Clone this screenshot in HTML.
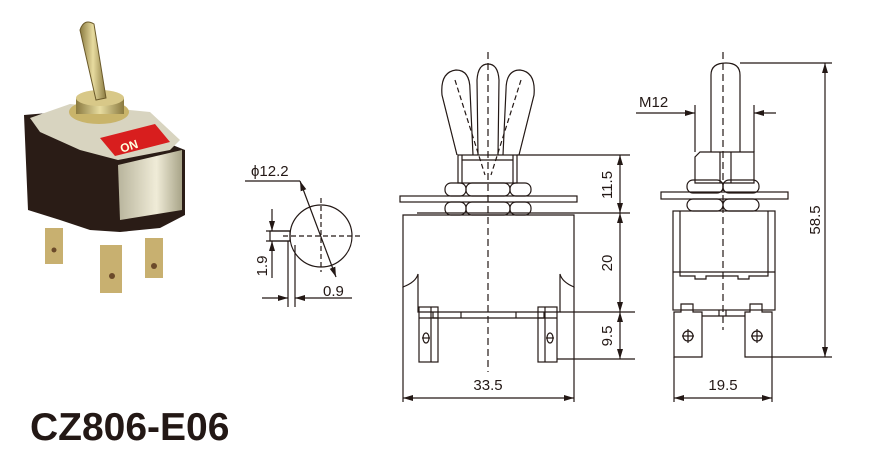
<!DOCTYPE html>
<html><head><style>body{margin:0;background:#fff}svg{display:block}</style></head>
<body>
<svg width="883" height="454" viewBox="0 0 883 454" xmlns="http://www.w3.org/2000/svg" font-family="Liberation Sans, Arial, sans-serif">
<defs>
<marker id="a" viewBox="0 0 10 6" refX="10" refY="3" markerWidth="10" markerHeight="6" orient="auto-start-reverse" markerUnits="userSpaceOnUse"><path d="M0,0 L10,3 L0,6 z" fill="#231815"/></marker>
<linearGradient id="g1" x1="0" x2="1"><stop offset="0" stop-color="#8a7a40"/><stop offset=".5" stop-color="#e8dca0"/><stop offset="1" stop-color="#8a7a40"/></linearGradient>
<linearGradient id="g2" x1="0" x2="1"><stop offset="0" stop-color="#b8b49c"/><stop offset=".6" stop-color="#f0ecd8"/><stop offset="1" stop-color="#a8a488"/></linearGradient>
</defs>
<!-- photo -->
<g>
<polygon points="24,115 60,112 120,126 160,140 185,150 185,215 160,228 120,232 90,230 60,220 28,210" fill="#2a1c16"/>
<polygon points="118,165 182,150 182,210 120,220" fill="url(#g2)"/>
<polygon points="30,118 70,104 150,112 180,140 170,150 118,160 80,150 40,132" fill="#d8d4c0"/>
<polygon points="100,138 155,124 170,142 115,156" fill="#d81e1e"/>
<text x="120" y="150" font-size="12" fill="#ffd" font-weight="bold" transform="rotate(-18 130 146)">ON</text>
<ellipse cx="99" cy="112" rx="30" ry="12" fill="#c9b46a"/>
<rect x="76" y="98" width="48" height="16" fill="url(#g1)"/>
<ellipse cx="100" cy="98" rx="24" ry="8" fill="#d8c888"/>
<path d="M80,30 Q84,18 94,24 L106,98 L96,100 Z" fill="url(#g1)" stroke="#6b5a2a" stroke-width="1"/>
<rect x="45" y="228" width="18" height="36" fill="#c8b070"/>
<rect x="100" y="245" width="22" height="48" fill="#c8b070"/>
<rect x="145" y="238" width="18" height="40" fill="#c8b070"/>
<circle cx="112" cy="276" r="3" fill="#6b4a2a"/><circle cx="154" cy="266" r="3" fill="#6b4a2a"/><circle cx="54" cy="250" r="2.5" fill="#6b4a2a"/>
</g>
<text x="30" y="440" font-size="39" font-weight="bold" fill="#231815">CZ806-E06</text>

<g fill="none" stroke="#231815" stroke-width="1.2">
<!-- small view -->
<circle cx="321" cy="236" r="31"/>
<line x1="283" y1="236" x2="362" y2="236" stroke-dasharray="5,3"/>
<line x1="321" y1="198" x2="321" y2="272" stroke-dasharray="5,3"/>
<rect x="270" y="231" width="20" height="10"/>
<line x1="245" y1="181" x2="300" y2="181"/>
<line x1="300" y1="181" x2="336" y2="277" marker-end="url(#a)" marker-start="url(#a)"/>
<line x1="266" y1="231" x2="290" y2="231"/><line x1="266" y1="241" x2="290" y2="241"/>
<line x1="272" y1="209" x2="272" y2="231" marker-end="url(#a)"/>
<line x1="272" y1="241" x2="272" y2="278" marker-start="url(#a)"/>
<line x1="288" y1="241" x2="288" y2="307"/><line x1="295" y1="245" x2="295" y2="307"/>
<line x1="262" y1="298" x2="288" y2="298" marker-end="url(#a)"/>
<line x1="295" y1="298" x2="352" y2="298" marker-start="url(#a)"/>

<!-- middle view -->
<line x1="488" y1="52" x2="488" y2="372" stroke-dasharray="7,4"/>
<path d="M457,155 L442,95 Q440,72 456,70 Q470,70 470,90 L473,155"/>
<path d="M478,155 L477,80 Q478,64 488,64 Q498,64 499,80 L498,155"/>
<path d="M503,155 L506,90 Q506,70 520,70 Q536,72 534,95 L519,155"/>
<line x1="455" y1="80" x2="485" y2="175" stroke-dasharray="5,3"/>
<line x1="521" y1="80" x2="491" y2="175" stroke-dasharray="5,3"/>
<rect x="458" y="155" width="59" height="28"/><line x1="462" y1="160" x2="513" y2="160"/><line x1="462" y1="155" x2="462" y2="183"/><line x1="513" y1="155" x2="513" y2="183"/>
<rect x="445" y="183" width="21" height="13" rx="6"/><rect x="466" y="183" width="44" height="13" rx="6"/><rect x="510" y="183" width="21" height="13" rx="6"/>
<rect x="400" y="196" width="177" height="6"/>
<rect x="445" y="202" width="21" height="13" rx="6"/><rect x="466" y="202" width="44" height="13" rx="6"/><rect x="510" y="202" width="21" height="13" rx="6"/>
<path d="M403,215 L574,215 L574,287 Q562,282 560,274 L560,312 L418,312 L418,274 Q416,282 403,287 Z"/>
<path d="M433,312 L433,318 L544,318 L544,312 M461,312 L461,318 M516,312 L516,318"/>
<rect x="419" y="307" width="19" height="55"/><line x1="431" y1="307" x2="431" y2="362"/><line x1="419" y1="318" x2="438" y2="318"/>
<ellipse cx="426" cy="338" rx="3" ry="5"/><line x1="422" y1="338" x2="430" y2="338"/>
<rect x="538" y="307" width="19" height="55"/><line x1="545" y1="307" x2="545" y2="362"/><line x1="538" y1="318" x2="557" y2="318"/>
<ellipse cx="550" cy="338" rx="3" ry="5"/><line x1="546" y1="338" x2="554" y2="338"/>
<line x1="517" y1="155" x2="630" y2="155"/><line x1="417" y1="213" x2="630" y2="213"/><line x1="560" y1="312" x2="635" y2="312"/><line x1="557" y1="359" x2="635" y2="359"/>
<line x1="620" y1="155" x2="620" y2="213" marker-end="url(#a)" marker-start="url(#a)"/>
<line x1="620" y1="213" x2="620" y2="312" marker-end="url(#a)" marker-start="url(#a)"/>
<line x1="620" y1="312" x2="620" y2="359" marker-end="url(#a)" marker-start="url(#a)"/>
<line x1="403" y1="287" x2="403" y2="402"/><line x1="574" y1="287" x2="574" y2="402"/>
<line x1="403" y1="398" x2="574" y2="398" marker-end="url(#a)" marker-start="url(#a)"/>

<!-- right view -->
<line x1="723" y1="52" x2="723" y2="330" stroke-dasharray="7,4"/>
<path d="M711,152 L711,75 Q711,63 726,63 Q740,63 740,75 L740,152"/>
<path d="M695,183 L695,157 L700,152 L754,152 L754,183 Z"/><line x1="720" y1="152" x2="720" y2="183"/><line x1="731" y1="152" x2="731" y2="183"/>
<rect x="687" y="180" width="36" height="13" rx="6"/><rect x="723" y="180" width="36" height="13" rx="6"/>
<rect x="661" y="192" width="127" height="7"/>
<rect x="687" y="199" width="36" height="12" rx="6"/><rect x="723" y="199" width="36" height="12" rx="6"/>
<rect x="673" y="211" width="102" height="99"/>
<path d="M680,211 L680,272 M768,211 L768,272 M673,272 L775,272 M680,272 L680,276 L695,276 L695,279 L706,279 L706,276 L738,276 L738,279 L749,279 L749,276 L768,276 L768,272"/>
<path d="M674,357 L674,312 L681,312 L681,304 L693,304 L693,312 L702,312 L702,357 Z"/>
<path d="M745,357 L745,312 L750,312 L750,304 L762,304 L762,312 L772,312 L772,357 Z"/>
<line x1="702" y1="316" x2="745" y2="316"/><line x1="719" y1="310" x2="719" y2="316"/><line x1="726" y1="310" x2="726" y2="316"/>
<circle cx="688" cy="336" r="5"/><line x1="682" y1="336" x2="694" y2="336"/><line x1="688" y1="329" x2="688" y2="343"/>
<circle cx="757" cy="336" r="5"/><line x1="751" y1="336" x2="763" y2="336"/><line x1="757" y1="329" x2="757" y2="343"/>
<line x1="695" y1="105" x2="695" y2="152"/><line x1="754" y1="105" x2="754" y2="152"/>
<line x1="636" y1="113" x2="695" y2="113" marker-end="url(#a)"/>
<line x1="754" y1="113" x2="776" y2="113" marker-start="url(#a)"/>
<line x1="740" y1="63" x2="832" y2="63"/><line x1="772" y1="357" x2="832" y2="357"/>
<line x1="825" y1="63" x2="825" y2="357" marker-end="url(#a)" marker-start="url(#a)"/>
<line x1="674" y1="357" x2="674" y2="402"/><line x1="772" y1="357" x2="772" y2="402"/>
<line x1="674" y1="398" x2="772" y2="398" marker-end="url(#a)" marker-start="url(#a)"/>
</g>

<g fill="#231815" font-size="15">
<text x="251" y="176">ϕ12.2</text>
<text x="323" y="296">0.9</text>
<text transform="translate(267,266) rotate(-90)" text-anchor="middle">1.9</text>
<text transform="translate(612,185) rotate(-90)" text-anchor="middle">11.5</text>
<text transform="translate(612,263) rotate(-90)" text-anchor="middle">20</text>
<text transform="translate(612,336) rotate(-90)" text-anchor="middle">9.5</text>
<text x="488" y="390" text-anchor="middle">33.5</text>
<text x="639" y="107">M12</text>
<text transform="translate(820,220) rotate(-90)" text-anchor="middle">58.5</text>
<text x="723" y="390" text-anchor="middle">19.5</text>
</g>
</svg>
</body></html>
